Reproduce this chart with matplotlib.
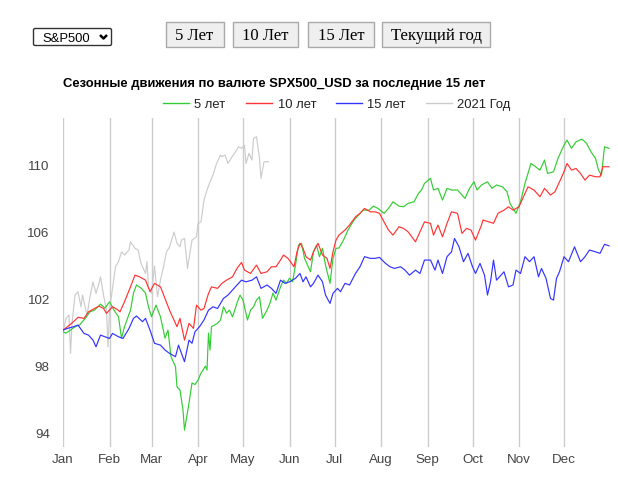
import matplotlib
matplotlib.use("Agg")
import matplotlib.pyplot as plt
from matplotlib.lines import Line2D
from matplotlib.patches import FancyBboxPatch, Rectangle

plt.rcParams['font.family'] = ['Liberation Sans', 'DejaVu Sans']

W, H = 618, 486

title = "Сезонные движения по валюте SPX500_USD за последние 15 лет"
series_labels = ["5 лет", "10 лет", "15 лет", "2021 Год"]
series_colors = ["#33cc33", "#ff3333", "#3333ff", "#cccccc"]
month_labels = ["Jan", "Feb", "Mar", "Apr", "May", "Jun", "Jul", "Aug", "Sep", "Oct", "Nov", "Dec"]
month_lengths = [31, 28, 31, 30, 31, 30, 31, 31, 30, 31, 30, 31]
y_ticks = [94, 98, 102, 106, 110]
buttons = ["5 Лет", "10 Лет", "15 Лет", "Текущий год"]
dropdown_label = "S&P500"

g_days = [0, 2, 5, 8, 11, 15, 18, 21, 25, 28, 31, 34, 37, 39, 41, 45, 47, 49, 52, 55, 57, 59, 62, 65, 68,
          70, 72, 75, 76, 78, 80, 81, 84, 86, 88, 90, 92, 95, 96, 97, 98, 99, 103, 105, 106, 107, 109, 111,
          113, 116, 118, 120, 123, 125, 127, 129, 131, 133, 136, 138, 140, 142, 145, 147, 149, 151, 153, 155,
          157, 159, 161, 165, 167, 169, 171, 173, 175, 178, 180, 182, 184, 187, 190, 194, 197, 200, 204, 207,
          210, 214, 217, 220, 224, 227, 230, 234, 237, 239, 241, 245, 247, 250, 253, 256, 259, 263, 265, 268,
          271, 274, 276, 279, 283, 286, 289, 293, 296, 298, 300, 302, 305, 308, 312, 315, 318, 321, 323, 327,
          330, 334, 336, 339, 342, 346, 349, 352, 355, 357, 359, 361, 364]
g_vals = [100.05, 99.97, 100.15, 100.35, 100.45, 100.87, 101.24, 101.34, 101.70, 101.46, 101.84, 101.34,
          100.94, 99.67, 100.35, 101.34, 102.36, 102.84, 102.66, 102.36, 101.54, 100.94, 101.64, 100.94,
          99.67, 100.15, 98.56, 97.96, 96.76, 96.57, 95.37, 94.18, 95.79, 96.99, 96.90, 97.16, 97.58, 98.00,
          97.76, 99.97, 98.96, 100.35, 100.55, 100.75, 101.16, 101.54, 101.16, 101.34, 100.94, 101.76, 102.24,
          101.94, 100.75, 101.34, 101.54, 101.94, 102.14, 100.85, 101.34, 101.76, 102.36, 101.94, 102.73,
          103.13, 102.94, 103.25, 103.03, 104.03, 105.22, 105.33, 104.43, 103.63, 104.82, 105.22, 104.53,
          105.03, 104.03, 102.94, 104.43, 105.03, 105.05, 105.52, 106.12, 106.72, 107.01, 107.31, 107.31,
          107.55, 107.41, 107.12, 107.41, 107.81, 107.55, 107.51, 107.71, 107.81, 108.31, 108.51, 108.91,
          109.21, 108.51, 108.61, 107.91, 108.61, 108.51, 108.51, 108.31, 108.01, 108.61, 109.00, 108.51,
          108.81, 109.00, 108.61, 108.81, 108.70, 108.41, 107.71, 107.41, 107.12, 107.81, 108.91, 110.10,
          109.90, 109.70, 110.30, 109.50, 109.60, 110.40, 111.19, 111.49, 111.00, 111.39, 111.55, 111.30,
          110.79, 110.40, 109.70, 109.40, 111.09, 111.00]

r_days = [0, 3, 7, 10, 14, 17, 20, 24, 27, 29, 33, 36, 38, 41, 45, 48, 51, 55, 58, 61, 65, 68, 71, 73, 76,
          78, 81, 84, 87, 89, 92, 94, 97, 99, 103, 106, 109, 113, 116, 119, 121, 125, 129, 132, 136, 139, 142,
          145, 147, 150, 154, 156, 158, 160, 162, 165, 167, 170, 173, 176, 178, 180, 182, 184, 188, 191, 195,
          198, 201, 205, 208, 211, 214, 217, 220, 224, 227, 230, 235, 238, 241, 245, 247, 250, 253, 256, 259,
          263, 266, 269, 272, 275, 279, 280, 284, 287, 290, 294, 297, 300, 304, 307, 310, 314, 318, 321, 325,
          328, 331, 334, 336, 339, 342, 345, 348, 351, 355, 358, 360, 364]
r_vals = [100.15, 100.35, 100.65, 100.91, 100.85, 101.24, 101.39, 101.58, 101.44, 101.15, 101.54, 101.39,
          101.24, 101.84, 102.73, 103.43, 103.33, 103.13, 102.44, 102.94, 102.73, 102.04, 101.34, 100.94,
          100.35, 100.85, 99.55, 100.55, 100.25, 101.64, 101.34, 101.44, 102.34, 102.73, 102.64, 102.94,
          103.13, 103.33, 103.83, 104.19, 103.73, 103.53, 104.03, 103.53, 103.63, 103.93, 103.93, 104.33,
          104.63, 104.43, 103.93, 104.82, 105.33, 105.03, 104.53, 104.33, 104.82, 105.33, 104.63, 104.43,
          103.83, 104.82, 105.52, 105.82, 106.12, 106.42, 106.91, 107.12, 107.41, 107.21, 107.21, 107.12,
          106.61, 106.12, 105.82, 106.32, 106.22, 106.02, 105.42, 106.02, 106.61, 106.52, 105.82, 106.42,
          105.72, 106.52, 107.21, 107.12, 105.92, 106.22, 106.12, 105.52, 106.42, 106.72, 106.61, 106.52,
          107.12, 107.31, 107.51, 107.31, 107.51, 108.11, 108.70, 108.51, 108.11, 108.61, 108.21, 108.41,
          109.00, 109.60, 110.10, 109.70, 109.80, 109.50, 109.10, 109.40, 109.30, 109.30, 109.90, 109.90]

b_days = [0, 3, 7, 10, 14, 17, 20, 22, 25, 28, 31, 33, 37, 40, 44, 47, 49, 53, 55, 58, 61, 65, 68, 71, 75,
          77, 81, 84, 86, 88, 91, 94, 97, 100, 103, 107, 110, 113, 116, 119, 122, 126, 129, 132, 136, 139,
          142, 145, 148, 151, 155, 158, 160, 162, 165, 167, 170, 173, 175, 178, 180, 183, 185, 188, 191, 195,
          198, 201, 205, 208, 211, 215, 218, 221, 225, 228, 231, 235, 238, 241, 245, 248, 250, 253, 256, 259,
          261, 264, 267, 270, 273, 275, 278, 281, 283, 285, 287, 289, 291, 294, 297, 300, 302, 305, 308, 311,
          314, 317, 319, 322, 325, 327, 329, 331, 334, 337, 341, 345, 348, 351, 355, 358, 361, 364]
b_vals = [100.15, 100.25, 100.35, 100.45, 99.95, 99.85, 99.55, 99.15, 99.85, 99.75, 99.65, 99.95, 99.75,
          99.65, 100.25, 100.85, 100.99, 100.65, 100.85, 100.15, 99.36, 99.25, 98.96, 98.76, 98.56, 99.25,
          98.26, 99.55, 99.36, 100.05, 100.35, 100.75, 101.34, 101.54, 101.44, 102.04, 102.24, 102.54, 102.84,
          103.13, 103.03, 103.13, 103.33, 102.64, 102.84, 102.64, 102.34, 103.13, 102.94, 103.03, 103.24,
          103.53, 103.03, 103.33, 102.73, 102.94, 103.43, 103.03, 102.24, 101.74, 102.34, 102.64, 102.44,
          102.94, 102.84, 103.53, 103.93, 104.53, 104.43, 104.43, 104.49, 104.13, 103.93, 103.83, 103.93,
          103.73, 103.43, 103.73, 103.53, 104.33, 104.33, 103.73, 104.33, 103.53, 104.53, 104.82, 105.62,
          105.12, 104.23, 104.73, 103.93, 103.53, 104.13, 103.43, 102.24, 103.03, 104.33, 103.13, 103.33,
          103.63, 102.73, 102.84, 103.73, 103.53, 104.53, 104.23, 104.53, 103.33, 103.83, 103.24, 102.04,
          101.94, 103.24, 103.63, 104.53, 104.23, 105.12, 104.23, 104.53, 104.93, 104.82, 104.73, 105.27,
          105.18]

c_days = [0, 2, 4, 5, 6, 8, 10, 12, 13, 16, 18, 20, 22, 24, 25, 27, 29, 30, 31, 33, 35, 37, 39, 41, 44, 45,
          48, 50, 52, 55, 56, 57, 59, 61, 63, 65, 67, 69, 71, 74, 76, 78, 79, 81, 83, 86, 89, 90, 92, 94, 96,
          98, 100, 102, 105, 106, 108, 110, 112, 115, 117, 119, 121, 122, 124, 126, 127, 129, 131, 132, 134, 137]
c_vals = [100.05, 100.85, 101.04, 98.76, 100.55, 102.24, 102.44, 101.54, 102.24, 101.04, 102.14, 103.03,
          102.34, 102.94, 103.33, 102.24, 101.34, 99.15, 101.34, 102.64, 103.93, 104.23, 104.82, 104.63,
          104.93, 105.42, 105.03, 104.93, 104.13, 103.53, 104.23, 102.73, 102.34, 103.97, 102.14, 103.13,
          103.93, 104.82, 105.10, 106.00, 105.33, 105.12, 105.52, 105.62, 103.83, 105.52, 105.72, 106.52,
          106.61, 107.91, 108.51, 108.99, 109.40, 110.00, 110.60, 110.50, 110.60, 110.10, 110.40, 110.79,
          111.09, 111.00, 111.19, 110.10, 110.70, 110.30, 111.59, 111.69, 110.40, 109.21, 110.20, 110.20]


def fx(px):
    return px / W


def fy(py):
    return 1 - py / H


fig = plt.figure(figsize=(W / 100, H / 100), dpi=100)
ax = fig.add_axes([fx(63), fy(447), fx(612) - fx(63), fy(118) - fy(447)])

for d, v, c in [(c_days, c_vals, series_colors[3]), (g_days, g_vals, series_colors[0]),
                (r_days, r_vals, series_colors[1]), (b_days, b_vals, series_colors[2])]:
    ax.plot(d, v, color=c, lw=0.85, solid_joinstyle='round')

month_starts = [sum(month_lengths[:i]) for i in range(12)]
ax.set_xlim(0, 366)
ax.set_ylim(93.17, 112.81)
ax.set_xticks(month_starts)
ax.set_xticklabels(month_labels)
ax.set_yticks(y_ticks)
ax.set_yticklabels([str(t) for t in y_ticks])
ax.tick_params(axis='both', length=0, labelsize=9.6, labelcolor='#444444')
ax.tick_params(axis='y', pad=9.5)
ax.tick_params(axis='x', pad=5)
for s in ax.spines.values():
    s.set_visible(False)
ax.grid(axis='x', color='#cccccc', lw=1.0)
ax.set_axisbelow(True)

# Title
fig.text(fx(63), fy(87.5), title, fontsize=9.4, fontweight='bold', color='#000000',
         ha='left', va='baseline')

# Legend
leg_pos = [(163, 194), (246, 278), (336, 367), (426, 457)]
for (lx, tx), lab, col in zip(leg_pos, series_labels, series_colors):
    fig.add_artist(Line2D([fx(lx), fx(lx + 26)], [fy(103.3), fy(103.3)], color=col, lw=1.0,
                          transform=fig.transFigure))
    fig.text(fx(tx), fy(107.7), lab, fontsize=9.4, color='#222222', ha='left', va='baseline')

# Dropdown
fig.add_artist(FancyBboxPatch((fx(33.5), fy(45.5)), fx(111.5) - fx(33.5), fy(28.5) - fy(45.5),
                              boxstyle="round,pad=0,rounding_size=0.003", transform=fig.transFigure,
                              facecolor='white', edgecolor='#333333', lw=1.0))
fig.text(fx(42.5), fy(41.7), dropdown_label, fontsize=9.4, color='#000000', ha='left', va='baseline')
fig.add_artist(Line2D([fx(100), fx(103.5), fx(107)], [fy(35), fy(38.5), fy(35)], color='#000000',
                      lw=1.8, transform=fig.transFigure, solid_capstyle='butt'))

# Buttons
btn_pos = [(165.5, 223.5), (232.5, 297.5), (307.5, 374), (382.5, 490.5)]
for (x0, x1), lab in zip(btn_pos, buttons):
    fig.add_artist(Rectangle((fx(x0), fy(47.5)), fx(x1) - fx(x0), fy(22.5) - fy(47.5),
                             transform=fig.transFigure, facecolor='#efefef', edgecolor='#a9a9a9', lw=1.0))
    fig.text(fx((x0 + x1) / 2), fy(40.5), lab, fontsize=12, family=['Liberation Serif', 'DejaVu Serif'],
             color='#000000', ha='center', va='baseline')

fig.savefig("out.png", dpi=100, facecolor='white')
